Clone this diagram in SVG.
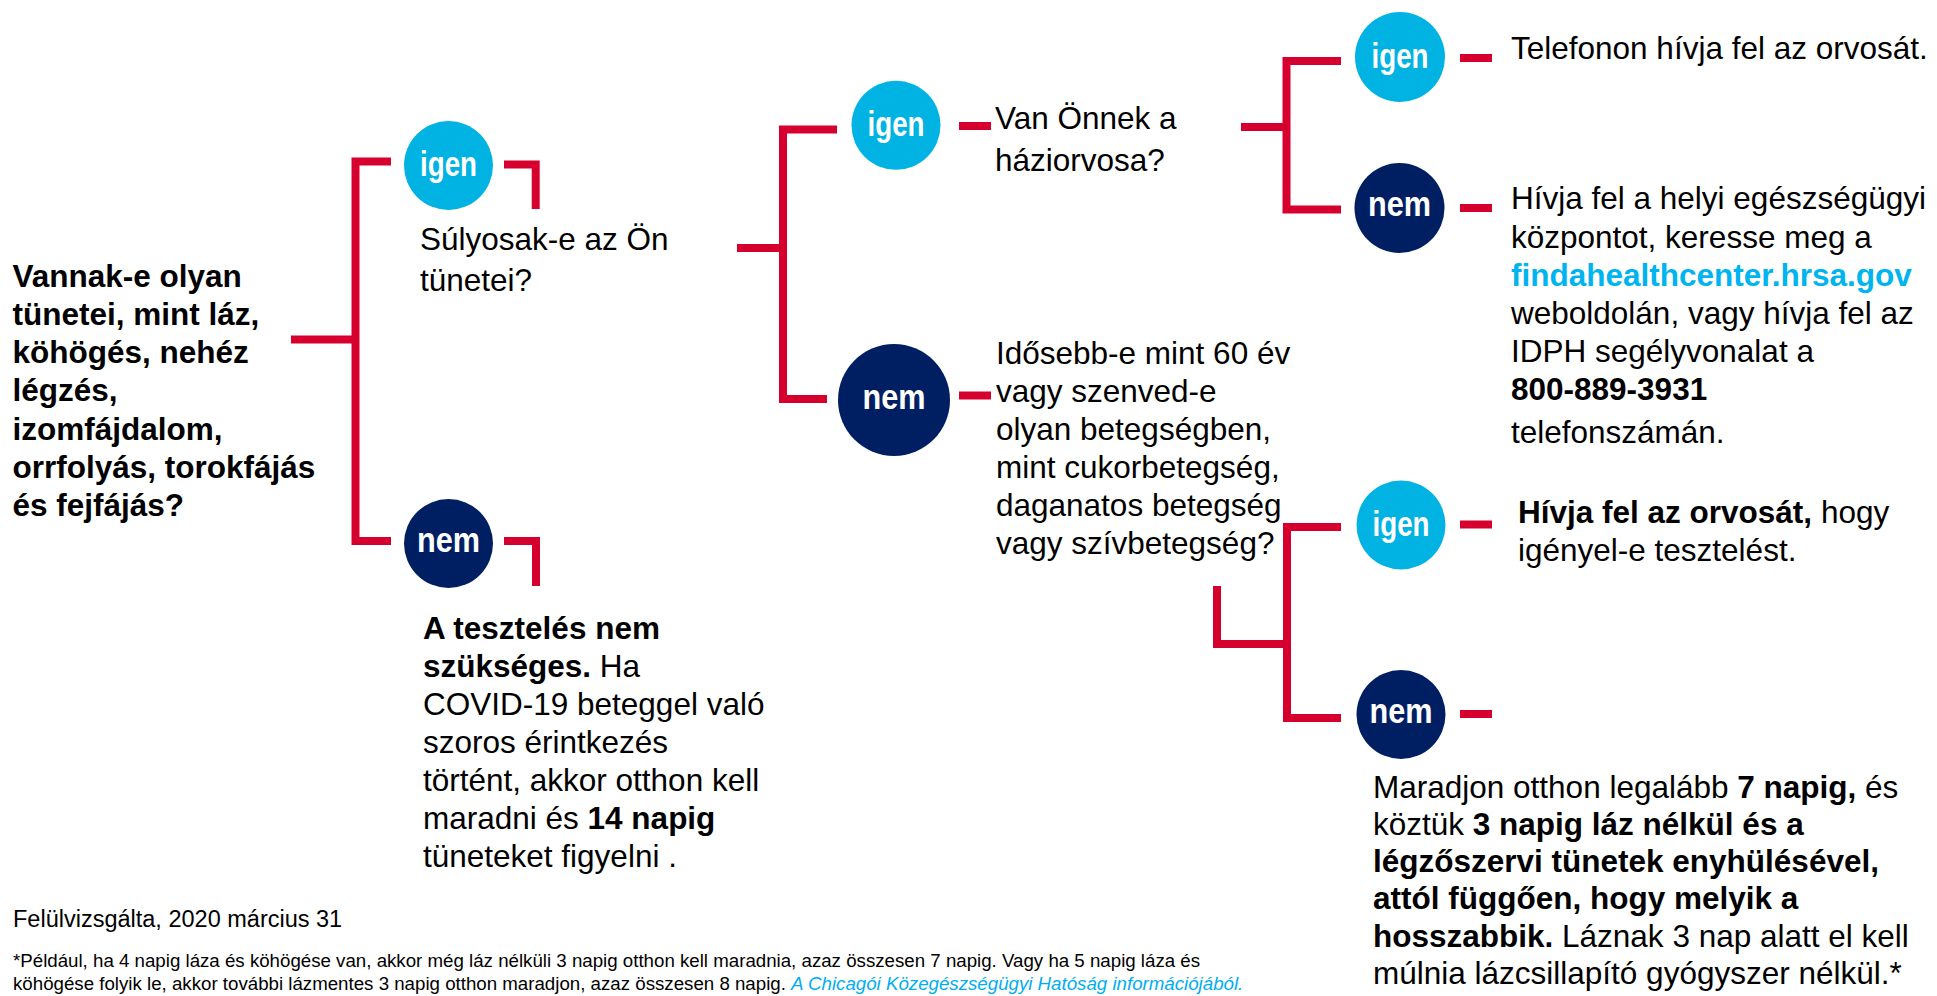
<svg xmlns="http://www.w3.org/2000/svg" width="1937" height="996" viewBox="0 0 1937 996">
<style>
.t{font-family:"Liberation Sans",Arial,sans-serif;font-size:31.5px;fill:#000}
.b{font-weight:bold}
.link{fill:#00B4EF;font-weight:bold}
.lbl{font-family:"Liberation Sans",Arial,sans-serif;font-weight:bold;font-size:35px;fill:#fff;text-anchor:middle}
.c{stroke:#D6002F;stroke-width:8;fill:none;stroke-linecap:butt;stroke-linejoin:miter}
.igen{fill:#00B3E3}
.nem{fill:#001F62}
.foot{font-family:"Liberation Sans",Arial,sans-serif;font-size:18.7px;fill:#000}
.src{fill:#00AEEF;font-style:italic}
</style>
<rect width="1937" height="996" fill="#fff"/>
<g id="connectors">
<path class="c" d="M391,161.5 H355.5 V541 H391 M291,339.5 H355.5"/>
<path class="c" d="M504,164.5 H535.7 V209"/>
<path class="c" d="M504,541 H536 V586"/>
<path class="c" d="M737,248 H783 M837,129.5 H783 V399 H827"/>
<path class="c" d="M959,126 H991 M959,395.5 H991"/>
<path class="c" d="M1241,127 H1286.5 M1341,61 H1286.5 V209.5 H1341"/>
<path class="c" d="M1460,58 H1492 M1460,208 H1492"/>
<path class="c" d="M1217,586 V644 H1287 M1341,527 H1287 V718 H1341"/>
<path class="c" d="M1460,524.5 H1492 M1460,714 H1492"/>
</g>
<g id="q-symptoms">
<text class="t b" x="12.5">
<tspan x="12.5" y="287">Vannak-e olyan</tspan>
<tspan x="12.5" y="325">tünetei, mint láz,</tspan>
<tspan x="12.5" y="363">köhögés, nehéz</tspan>
<tspan x="12.5" y="401">légzés,</tspan>
<tspan x="12.5" y="440">izomfájdalom,</tspan>
<tspan x="12.5" y="478">orrfolyás, torokfájás</tspan>
<tspan x="12.5" y="516">és fejfájás?</tspan>
</text>
</g>
<g id="a1-igen"><circle class="igen" cx="448.5" cy="165.5" r="44.5"/><text class="lbl" x="448.5" y="176" textLength="57" lengthAdjust="spacingAndGlyphs">igen</text></g>
<g id="a1-nem"><circle class="nem" cx="448.5" cy="543.5" r="44.5"/><text class="lbl" x="448.5" y="552" textLength="63" lengthAdjust="spacingAndGlyphs">nem</text></g>
<g id="q-severe">
<text class="t"><tspan x="420" y="250">Súlyosak-e az Ön</tspan><tspan x="420" y="291">tünetei?</tspan></text>
</g>
<g id="r-no-test">
<text class="t">
<tspan x="423" y="639" class="b">A tesztelés nem</tspan>
<tspan x="423" y="677"><tspan class="b">szükséges.</tspan> Ha</tspan>
<tspan x="423" y="715">COVID-19 beteggel való</tspan>
<tspan x="423" y="753">szoros érintkezés</tspan>
<tspan x="423" y="791">történt, akkor otthon kell</tspan>
<tspan x="423" y="829">maradni és <tspan class="b">14 napig</tspan></tspan>
<tspan x="423" y="867">tüneteket figyelni .</tspan>
</text>
</g>
<g id="a2-igen"><circle class="igen" cx="896" cy="125.3" r="44.5"/><text class="lbl" x="896" y="135.5" textLength="57" lengthAdjust="spacingAndGlyphs">igen</text></g>
<g id="a2-nem"><circle class="nem" cx="894" cy="400" r="56"/><text class="lbl" x="894" y="409" textLength="63" lengthAdjust="spacingAndGlyphs">nem</text></g>
<g id="q-doctor">
<text class="t"><tspan x="995" y="129">Van Önnek a</tspan><tspan x="995" y="171">háziorvosa?</tspan></text>
</g>
<g id="q-risk">
<text class="t">
<tspan x="996" y="364">Idősebb-e mint 60 év</tspan>
<tspan x="996" y="402">vagy szenved-e</tspan>
<tspan x="996" y="440">olyan betegségben,</tspan>
<tspan x="996" y="478">mint cukorbetegség,</tspan>
<tspan x="996" y="516">daganatos betegség</tspan>
<tspan x="996" y="554">vagy szívbetegség?</tspan>
</text>
</g>
<g id="a3-igen"><circle class="igen" cx="1400" cy="57" r="45"/><text class="lbl" x="1400" y="68" textLength="57" lengthAdjust="spacingAndGlyphs">igen</text></g>
<g id="a3-nem"><circle class="nem" cx="1399.5" cy="208" r="45"/><text class="lbl" x="1399.5" y="216" textLength="63" lengthAdjust="spacingAndGlyphs">nem</text></g>
<g id="r-call-doctor">
<text class="t" x="1511" y="59">Telefonon hívja fel az orvosát.</text>
</g>
<g id="r-health-center">
<text class="t">
<tspan x="1511" y="209">Hívja fel a helyi egészségügyi</tspan>
<tspan x="1511" y="248">központot, keresse meg a</tspan>
<tspan x="1511" y="286" class="link">findahealthcenter.hrsa.gov</tspan>
<tspan x="1511" y="324">weboldolán, vagy hívja fel az</tspan>
<tspan x="1511" y="362">IDPH segélyvonalat a</tspan>
<tspan x="1511" y="400" class="b">800-889-3931</tspan>
<tspan x="1511" y="443">telefonszámán.</tspan>
</text>
</g>
<g id="a4-igen"><circle class="igen" cx="1401" cy="525" r="44.5"/><text class="lbl" x="1401" y="535.5" textLength="57" lengthAdjust="spacingAndGlyphs">igen</text></g>
<g id="a4-nem"><circle class="nem" cx="1401" cy="714.5" r="44.5"/><text class="lbl" x="1401" y="723" textLength="63" lengthAdjust="spacingAndGlyphs">nem</text></g>
<g id="r-call-test">
<text class="t"><tspan x="1518" y="523"><tspan class="b">Hívja fel az orvosát,</tspan> hogy</tspan><tspan x="1518" y="561">igényel-e tesztelést.</tspan></text>
</g>
<g id="r-stay-home">
<text class="t">
<tspan x="1373" y="798">Maradjon otthon legalább <tspan class="b">7 napig,</tspan> és</tspan>
<tspan x="1373" y="835">köztük <tspan class="b">3 napig láz nélkül és a</tspan></tspan>
<tspan x="1373" y="872" class="b">légzőszervi tünetek enyhülésével,</tspan>
<tspan x="1373" y="909" class="b">attól függően, hogy melyik a</tspan>
<tspan x="1373" y="947"><tspan class="b">hosszabbik.</tspan> Láznak 3 nap alatt el kell</tspan>
<tspan x="1373" y="984">múlnia lázcsillapító gyógyszer nélkül.*</tspan>
</text>
</g>
<g id="footer">
<text x="13" y="927" style="font-family:'Liberation Sans',Arial,sans-serif;font-size:23.5px;fill:#000">Felülvizsgálta, 2020 március 31</text>
<text class="foot"><tspan x="13" y="967">*Például, ha 4 napig láza és köhögése van, akkor még láz nélküli 3 napig otthon kell maradnia, azaz összesen 7 napig. Vagy ha 5 napig láza és</tspan><tspan x="13" y="990">köhögése folyik le, akkor további lázmentes 3 napig otthon maradjon, azaz összesen 8 napig. <tspan class="src">A Chicagói Közegészségügyi Hatóság információjából.</tspan></tspan></text>
</g>
</svg>
